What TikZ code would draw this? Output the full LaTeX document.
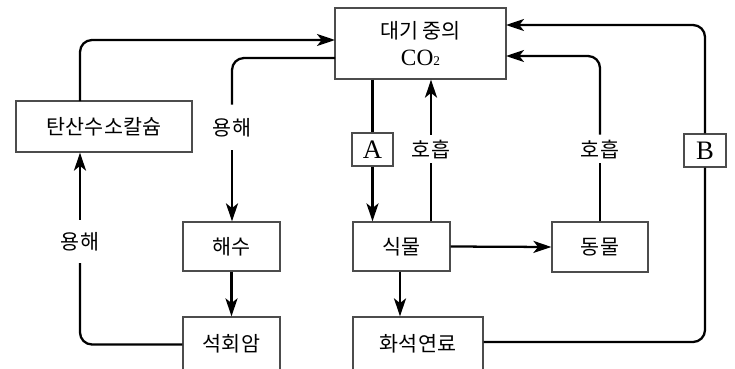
\documentclass[tikz,border=0pt]{standalone}
\usepackage{fontspec}
\setmainfont{Liberation Serif}
\newfontfamily\kr{Noto Sans CJK KR}
\usetikzlibrary{arrows.meta}
\begin{document}
\begin{tikzpicture}[x=0.75pt,y=-0.75pt,
  box/.style={draw=black!70,line width=0.9pt,rectangle,inner sep=0pt,
    font=\kr\fontsize{15.5}{19}\selectfont},
  lbox/.style={draw=black!70,line width=0.9pt,rectangle,inner sep=0pt,
    minimum height=24.75pt,font=\fontsize{20}{20}\selectfont},
  lab/.style={inner sep=0pt,font=\kr\fontsize{15.5}{19}\selectfont},
  con/.style={line width=1.7pt,black},
  arr/.style={con,-{Stealth[length=13.5pt,width=9pt,inset=3.5pt]}},
  rc/.style={rounded corners=9pt}]
\useasboundingbox (0,0) rectangle (735,368);
\clip (0,0) rectangle (735,368);
% nodes
\node[box,minimum width=128.25pt,minimum height=53.25pt,align=center] (co2) at (420.5,43.5)
  {대기 중의\\[1pt]{\rmfamily\fontsize{17.5}{17.5}\selectfont CO{\fontsize{10}{10}\selectfont 2}}};
\node[box,minimum width=132pt,minimum height=38.25pt] (tan) at (104,126.5) {탄산수소칼슘};
\node[box,minimum width=72.75pt,minimum height=36.75pt] (sea) at (231.5,246.5) {해수};
\node[box,minimum width=72.75pt,minimum height=41.25pt,text depth=3pt] (lime) at (231.5,344.5) {석회암};
\node[box,minimum width=72.75pt,minimum height=36.75pt] (plant) at (401.5,246.5) {식물};
\node[box,minimum width=97.5pt,minimum height=41.25pt,text depth=3pt] (fossil) at (418,344.5) {화석연료};
\node[box,minimum width=72pt,minimum height=37.5pt] (animal) at (600,247) {동물};
\node[lbox,minimum width=30.75pt] (A) at (372.5,149.5) {A};
\node[lbox,minimum width=31.5pt] (B) at (705,150.5) {B};
% labels
\node[lab,minimum height=33.75pt] (yh1) at (232,127.5) {용해};
\node[lab,minimum height=32pt] (yh2) at (80,241.5) {용해};
\node[lab,minimum height=21pt] (hh1) at (431,149) {호흡};
\node[lab,minimum height=21pt] (hh2) at (600,149) {호흡};
% coordinates
\coordinate (c1) at (80,101);
\coordinate (co2a) at (335,40);
\coordinate (co2b) at (335,58);
\coordinate (co2c) at (506,56);
\coordinate (co2d) at (506,25);
% connectors
\draw[arr,rc] (c1) |- (co2a);
\draw[con,rc] (co2b) -| (yh1.north);
\draw[arr] (yh1.south) -- (sea.north -| yh1.south);
\draw[arr] (sea) -- (lime);
\draw[con,rc] (lime.west) -| (yh2.south);
\draw[arr] (yh2.north) -- (tan.south -| yh2.north);
\draw[con] (co2.south -| A.north) -- (A.north);
\draw[arr] (A.south) -- (plant.north -| A.south);
\draw[con] (plant.north -| hh1.south) -- (hh1.south);
\draw[arr] (hh1.north) -- (co2.south -| hh1.north);
\draw[arr] (plant.east) -- (animal.west);
\draw[arr] (plant.south -| 400,0) -- (fossil.north -| 400,0);
\draw[con] (animal.north) -- (hh2.south);
\draw[arr,rc] (hh2.north) |- (co2c);
\draw[con,rc] (fossil.east |- 0,342) -| (B.south);
\draw[arr,rc] (B.north) |- (co2d);
\end{tikzpicture}
\end{document}
